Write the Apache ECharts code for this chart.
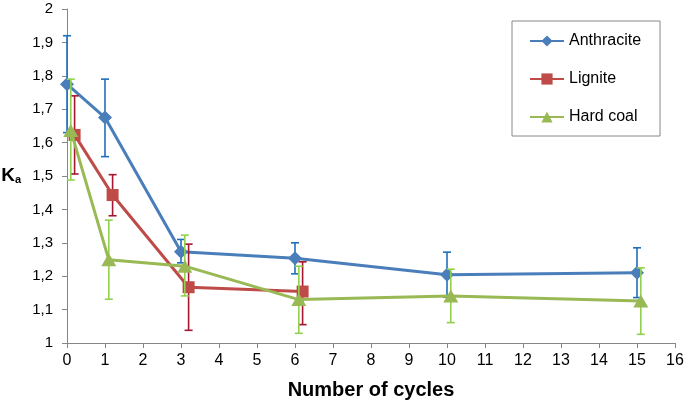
<!DOCTYPE html>
<html><head><meta charset="utf-8">
<script src="https://cdn.jsdelivr.net/npm/echarts@6/dist/echarts.min.js"></script>
<style>html,body{margin:0;padding:0;background:#fff}#c{width:685px;height:404px}</style>
</head><body><div id="c"></div>
<script>
// Data
const seriesNames = ['Anthracite', 'Lignite', 'Hard coal'];
const anthraciteX = [0, 1, 3, 6, 10, 15];
const anthraciteY = [1.775, 1.675, 1.273, 1.254, 1.204, 1.210];
const anthraciteLow = [1.630, 1.558, 1.240, 1.207, 1.137, 1.136];
const anthraciteHigh = [1.920, 1.790, 1.310, 1.300, 1.272, 1.285];
const ligniteX = [0.2, 1.2, 3.2, 6.2];
const ligniteY = [1.623, 1.443, 1.167, 1.154];
const ligniteLow = [1.506, 1.381, 1.038, 1.055];
const ligniteHigh = [1.740, 1.504, 1.296, 1.243];
const hardCoalX = [0.1, 1.1, 3.1, 6.1, 10.1, 15.1];
const hardCoalY = [1.636, 1.249, 1.230, 1.130, 1.141, 1.126];
const hardCoalLow = [1.488, 1.131, 1.141, 1.029, 1.061, 1.026];
const hardCoalHigh = [1.790, 1.368, 1.323, 1.230, 1.221, 1.225];
const xTicks = [0, 16, 1];
const yTicks = [1, 2, 0.1];

const lineColors = ['#4a7ebb', '#be4b48', '#98b954'];
const errColors = ['#1f6fbd', '#a3172f', '#92d050'];
const symbols = ['diamond', 'rect', 'triangle'];
const symbolSizes = [[14, 14], [12, 12], [15, 13]];

const sets = [
  [anthraciteX, anthraciteY, anthraciteLow, anthraciteHigh],
  [ligniteX, ligniteY, ligniteLow, ligniteHigh],
  [hardCoalX, hardCoalY, hardCoalLow, hardCoalHigh]
];

const series = [];
sets.forEach((s, i) => {
  const [xs, ys, lo, hi] = s;
  series.push({
    type: 'custom',
    name: seriesNames[i] + ' err',
    data: xs.map((x, k) => [x, lo[k], hi[k]]),
    z: 2 + i * 2,
    silent: true,
    renderItem: function (params, api) {
      const x = api.value(0);
      const top = api.coord([x, api.value(2)]);
      const bot = api.coord([x, api.value(1)]);
      const w = 4;
      const st = { stroke: errColors[i], lineWidth: 1.6 };
      return {
        type: 'group',
        children: [
          { type: 'line', shape: { x1: top[0], y1: top[1], x2: bot[0], y2: bot[1] }, style: st },
          { type: 'line', shape: { x1: top[0] - w, y1: top[1], x2: top[0] + w, y2: top[1] }, style: st },
          { type: 'line', shape: { x1: bot[0] - w, y1: bot[1], x2: bot[0] + w, y2: bot[1] }, style: st }
        ]
      };
    }
  });
  series.push({
    type: 'line',
    name: seriesNames[i],
    data: xs.map((x, k) => [x, ys[k]]),
    z: 3 + i * 2,
    symbol: symbols[i],
    symbolSize: symbolSizes[i],
    showAllSymbol: true,
    lineStyle: { color: lineColors[i], width: 3 },
    itemStyle: { color: lineColors[i] },
    animation: false
  });
});

const chart = echarts.init(document.getElementById('c'));
chart.setOption({
  animation: false,
  backgroundColor: '#fff',
  grid: { left: 67, right: 10, top: 9, bottom: 61, containLabel: false, outerBoundsMode: 'none' },
  legend: {
    data: seriesNames,
    orient: 'vertical',
    left: 512, top: 21,
    padding: [12, 19, 11, 17],
    itemWidth: 34, itemHeight: 14, itemGap: 22,
    borderColor: '#888', borderWidth: 1,
    textStyle: { fontFamily: 'Liberation Sans, Arial, sans-serif', fontSize: 16, color: '#000' }
  },
  xAxis: {
    type: 'value', min: xTicks[0], max: xTicks[1], interval: xTicks[2],
    name: 'Number of cycles', nameLocation: 'middle', nameGap: 37,
    nameTextStyle: { fontFamily: 'Liberation Sans, Arial, sans-serif', fontSize: 20, fontWeight: 'bold', color: '#000' },
    axisLine: { lineStyle: { color: '#868686', width: 1 } },
    axisTick: { show: true, length: 5, lineStyle: { color: '#868686' } },
    axisLabel: { fontFamily: '"Liberation Sans Narrow", "Liberation Sans", Arial, sans-serif', fontSize: 16, color: '#000', margin: 10 },
    splitLine: { show: false }
  },
  yAxis: {
    type: 'value', min: yTicks[0], max: yTicks[1], interval: yTicks[2],
    name: '{k|K}{a|a}', nameLocation: 'middle', nameRotate: 0, nameGap: 46,
    nameTextStyle: { rich: {
      k: { fontFamily: 'Liberation Sans, Arial, sans-serif', fontSize: 19, fontWeight: 'bold', color: '#000' },
      a: { fontFamily: 'Liberation Sans, Arial, sans-serif', fontSize: 11, fontWeight: 'bold', color: '#000', verticalAlign: 'bottom', padding: [6, 0, 0, 0] }
    } },
    axisLine: { show: true, lineStyle: { color: '#868686', width: 1 } },
    axisTick: { show: true, length: 5, lineStyle: { color: '#868686' } },
    axisLabel: {
      fontFamily: 'Liberation Sans, Arial, sans-serif', fontSize: 15, color: '#000', margin: 14,
      formatter: v => (Math.abs(v - Math.round(v)) < 1e-9 ? String(Math.round(v)) : v.toFixed(1).replace('.', ','))
    },
    splitLine: { show: false }
  },
  series: series
});
</script></body></html>
